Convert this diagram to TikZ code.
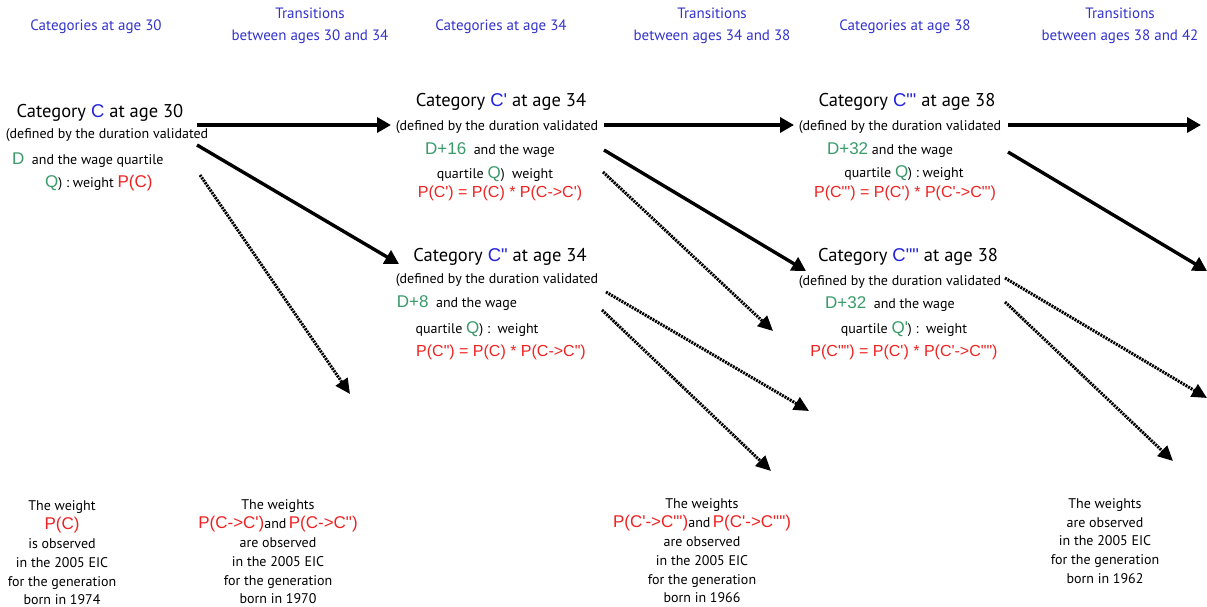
\documentclass[tikz,border=0pt]{standalone}
\usepackage{fontspec}
\setmainfont{PT Sans}
\newfontfamily\arialf[Ligatures=TeXOff]{Liberation Sans}
\usetikzlibrary{arrows.meta}
\definecolor{hdrc}{HTML}{3333CC}
\definecolor{cblue}{HTML}{2222DD}
\definecolor{grn}{HTML}{3A9A6A}
\definecolor{rd}{HTML}{EE2222}
\newcommand{\Cb}[1]{\textcolor{cblue}{\arialf #1}}
\newcommand{\Gr}[1]{\textcolor{grn}{\arialf\fontsize{17}{20}\selectfont #1}}
\newcommand{\Rd}[1]{\textcolor{rd}{\arialf\fontsize{16}{20}\selectfont #1}}
\newcommand{\Rf}[1]{\textcolor{rd}{\arialf\fontsize{17}{20}\selectfont #1}}
\tikzset{
  hdr/.style={text=hdrc, font=\fontsize{15}{22}\selectfont, align=center, inner sep=0pt},
  title/.style={font=\fontsize{18.5}{20}\selectfont, inner sep=0pt},
  txt/.style={font=\fontsize{14}{16}\selectfont, inner sep=0pt},
  foot/.style={font=\fontsize{14}{18.8}\selectfont, align=center, inner sep=0pt},
  solidarr/.style={line width=3.4pt, -{Triangle[length=14pt,width=15pt]}},
  dotarr/.style={line width=3pt, dash pattern=on 2pt off 1pt, -{Triangle[length=15pt,width=14pt]}},
}
\begin{document}
\begin{tikzpicture}[x=1pt,y=-1pt]
\useasboundingbox (0,0) rectangle (1207,607);
% headers
\node[hdr] (h1) at (96,27) {Categories at age 30};
\node[hdr] (h2) at (310,26) {Transitions\\between ages 30 and 34};
\node[hdr] (h3) at (501,27) {Categories at age 34};
\node[hdr] (h4) at (712,26) {Transitions\\between ages 34 and 38};
\node[hdr] (h5) at (905,27) {Categories at age 38};
\node[hdr] (h6) at (1120,26) {Transitions\\between ages 38 and 42};
% category C at 30
\node[title] (c1t) at (100,113) {Category \Cb{C} at age 30};
\node[txt] (c1a) at (107,135) {(defined by the duration validated};
\node[txt, anchor=west] (c1b) at (12,160) {\Gr{D}\ \ and the wage quartile};
\node[txt, anchor=west] (c1c) at (45,183) {\Gr{Q}) : weight \Rf{P(C)}};
% category C' at 34
\node[title] (c2t) at (501,102) {Category \Cb{C'} at age 34};
\node[txt] (c2a) at (497,127) {(defined by the duration validated};
\node[txt] (c2b) at (490,150) {\Gr{D+16}\ \ and the wage};
\node[txt] (c2c) at (495,174) {quartile \Gr{Q})\ \ weight};
\node[txt] (c2d) at (500,193) {\Rd{P(C') = P(C) * P(C->C')}};
% category C'' at 34
\node[title] (c3t) at (500,257) {Category \Cb{C"} at age 34};
\node[txt] (c3a) at (497,280) {(defined by the duration validated};
\node[txt] (c3b) at (457,303) {\Gr{D+8}\ \ and the wage};
\node[txt] (c3c) at (477,329) {quartile \Gr{Q}) : \ weight};
\node[txt] (c3d) at (501,352) {\Rd{P(C") = P(C) * P(C->C")}};
% category C''' at 38
\node[title] (c4t) at (907,102) {Category \Cb{C"'} at age 38};
\node[txt] (c4a) at (900,127) {(defined by the duration validated};
\node[txt] (c4b) at (890,150) {\Gr{D+32}\ and the wage};
\node[txt] (c4c) at (904,173) {quartile \Gr{Q}) : weight};
\node[txt] (c4d) at (905,193) {\Rd{P(C"') = P(C') * P(C'->C"')}};
% category C'''' at 38
\node[title] (c5t) at (908,257) {Category \Cb{C""} at age 38};
\node[txt] (c5a) at (900,282) {(defined by the duration validated};
\node[txt] (c5b) at (890,304) {\Gr{D+32}\ \ and the wage};
\node[txt] (c5c) at (904,329) {quartile \Gr{Q'}) : \ weight};
\node[txt] (c5d) at (904,352) {\Rd{P(C"") = P(C') * P(C'->C"")}};
% footers
\node[foot] (f1) at (62,553) {The weight\\\Rf{P(C)}\\is observed\\in the 2005 EIC\\for the generation\\born in 1974};
\node[foot] (f2) at (278,552) {The weights\\\Rf{P(C->C')}and\,\Rf{P(C->C")}\\are observed\\in the 2005 EIC\\for the generation\\born in 1970};
\node[foot] (f3) at (702,551) {The weights\\\Rf{P(C'->C"')}and\,\Rf{P(C'->C"")}\\are observed\\in the 2005 EIC\\for the generation\\born in 1966};
\node[foot] (f4) at (1105,541) {The weights\\are observed\\in the 2005 EIC\\for the generation\\born in 1962};
% connector end points
\coordinate (s1) at (197,125); \coordinate (e1) at (391,125);
\coordinate (s2) at (197,145); \coordinate (e2) at (399,264);
\coordinate (s3) at (200,175); \coordinate (e3) at (350,394);
\coordinate (s4) at (604,125); \coordinate (e4) at (794,125);
\coordinate (s5) at (604,150); \coordinate (e5) at (806,271);
\coordinate (s6) at (603,172); \coordinate (e6) at (773,331);
\coordinate (s7) at (606,292); \coordinate (e7) at (809,411);
\coordinate (s8) at (602,310); \coordinate (e8) at (771,471);
\coordinate (s9) at (1008,125); \coordinate (e9) at (1201,125);
\coordinate (s10) at (1008,152); \coordinate (e10) at (1207,271);
\coordinate (s11) at (1005,278); \coordinate (e11) at (1207,398);
\coordinate (s12) at (1005,302); \coordinate (e12) at (1173,461);
\draw[solidarr] (s1) -- (e1);
\draw[solidarr] (s2) -- (e2);
\draw[dotarr] (s3) -- (e3);
\draw[solidarr] (s4) -- (e4);
\draw[solidarr] (s5) -- (e5);
\draw[dotarr] (s6) -- (e6);
\draw[dotarr] (s7) -- (e7);
\draw[dotarr] (s8) -- (e8);
\draw[solidarr] (s9) -- (e9);
\draw[solidarr] (s10) -- (e10);
\draw[dotarr] (s11) -- (e11);
\draw[dotarr] (s12) -- (e12);
\end{tikzpicture}
\end{document}
